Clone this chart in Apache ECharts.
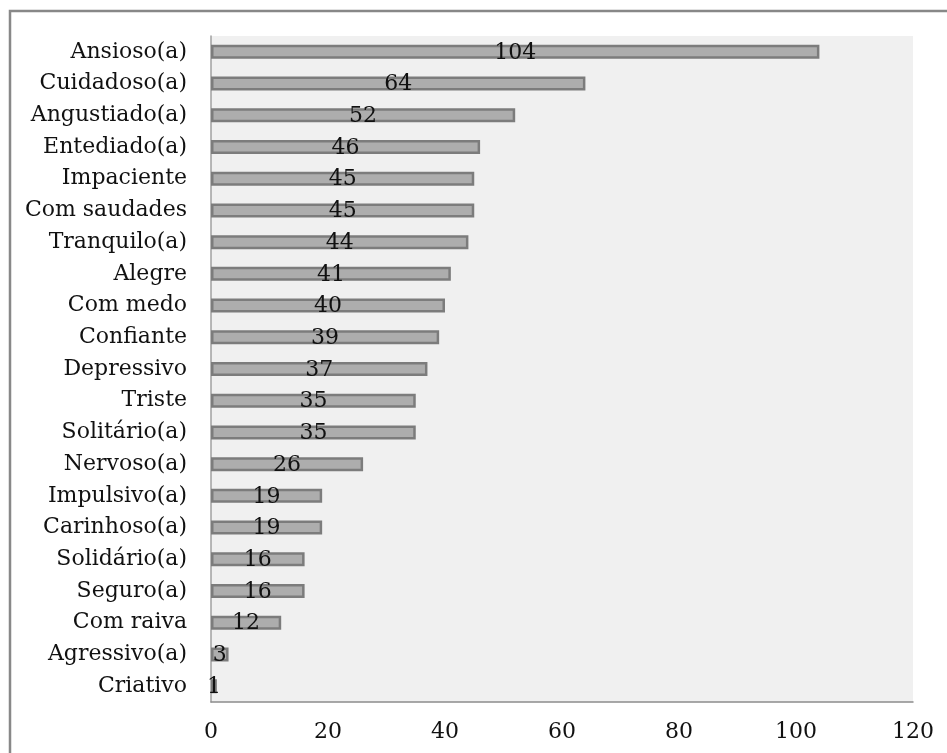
<!DOCTYPE html>
<html>
<head>
<meta charset="utf-8">
<script src="https://cdn.jsdelivr.net/npm/echarts@6/dist/echarts.min.js"></script>
<style>
html,body{margin:0;padding:0;background:#fff;}
#chart{width:947px;height:753px;}
</style>
</head>
<body>
<div id="chart"></div>
<script>
const categories = ["Ansioso(a)","Cuidadoso(a)","Angustiado(a)","Entediado(a)","Impaciente","Com saudades","Tranquilo(a)","Alegre","Com medo","Confiante","Depressivo","Triste","Solitário(a)","Nervoso(a)","Impulsivo(a)","Carinhoso(a)","Solidário(a)","Seguro(a)","Com raiva","Agressivo(a)","Criativo"];
const values = [104,64,52,46,45,45,44,41,40,39,37,35,35,26,19,19,16,16,12,3,1];
const xTicks = {min:0, max:120, interval:20};

const FONT = "DejaVu Serif";
const chart = echarts.init(document.getElementById('chart'), null, {renderer:'canvas'});
chart.setOption({
  animation:false,
  backgroundColor:'#ffffff',
  graphic:[{
    type:'rect', silent:true, z:-1,
    shape:{x:10, y:11, width:1000, height:800},
    style:{fill:'none', stroke:'#888888', lineWidth:2.5}
  }],
  grid:{left:211, right:34, top:36, bottom:51, show:true, backgroundColor:'#f0f0f0', borderWidth:0},
  xAxis:{
    type:'value', min:xTicks.min, max:xTicks.max, interval:xTicks.interval,
    axisLine:{show:true, lineStyle:{color:'#8c8c8c', width:1.5}},
    axisTick:{show:false},
    splitLine:{show:false},
    axisLabel:{color:'#111111', fontFamily:FONT, fontSize:22, margin:19}
  },
  yAxis:{
    type:'category', data:categories, inverse:true,
    axisLine:{show:true, lineStyle:{color:'#a0a0a0', width:1.5}},
    axisTick:{show:false},
    axisLabel:{color:'#111111', fontFamily:FONT, fontSize:22, margin:24}
  },
  series:[{
    type:'bar', data:values, barWidth:14,
    itemStyle:{color:'#adadad', borderColor:'#7c7c7c', borderWidth:2.5},
    label:{show:true, position:'inside', color:'#111111', fontFamily:FONT, fontSize:22, offset:[0,1]}
  }]
});
</script>
</body>
</html>
